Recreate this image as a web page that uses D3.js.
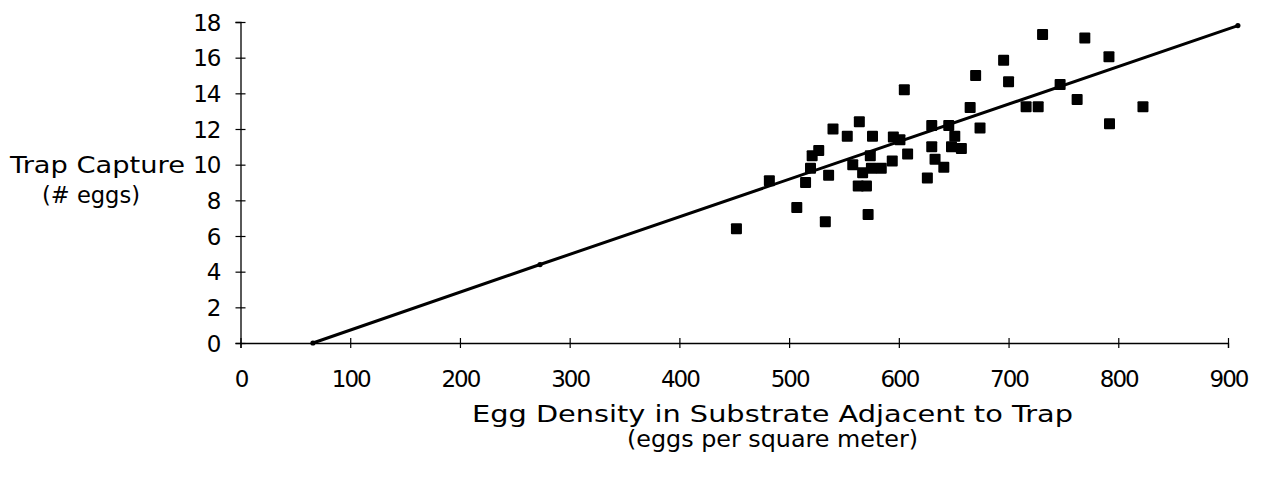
<!DOCTYPE html>
<html>
<head>
<meta charset="utf-8">
<script src="https://cdn.jsdelivr.net/npm/d3@7"></script>
<style>
  html, body { margin: 0; padding: 0; background: #fff; }
  svg { display: block; }
  text { font-family: "DejaVu Sans", sans-serif; fill: #000; }
</style>
</head>
<body>
<svg id="chart" width="1283" height="479"></svg>
<script>
// ---- data ----
const eggDensity = [452, 482, 507, 515, 519.5, 521, 527, 533, 536, 540,
                    553, 558, 564, 567, 563, 570.5, 572, 576, 574, 575,
                    584, 594, 595, 601, 605, 608, 626, 630, 630, 633,
                    641, 645.5, 648, 651, 657, 665, 670, 674, 695.5, 700,
                    716, 727, 731, 747, 762.5, 769.5, 791.5, 792, 822.5];
const trapCapture = [6.4, 9.1, 7.6, 9.0, 9.8, 10.5, 10.8, 6.8, 9.4, 12.0,
                     11.6, 10.0, 12.4, 9.55, 8.8, 8.8, 7.2, 11.6, 10.5, 9.8,
                     9.8, 10.2, 11.55, 11.4, 14.2, 10.6, 9.25, 12.2, 11.0, 10.3,
                     9.85, 12.2, 11.0, 11.6, 10.9, 13.2, 15.0, 12.05, 15.85, 14.65,
                     13.25, 13.25, 17.3, 14.5, 13.65, 17.1, 16.05, 12.3, 13.25];
const fitX = [66, 273, 909];
const fitY = [0, 4.4, 17.8];
const xTicks = [0, 100, 200, 300, 400, 500, 600, 700, 800, 900];
const yTicks = [0, 2, 4, 6, 8, 10, 12, 14, 16, 18];
const yTitle = ["Trap Capture", "(# eggs)"];
const xTitle = ["Egg Density in Substrate Adjacent to Trap", "(eggs per square meter)"];

// ---- layout ----
const svg = d3.select("#chart");
const x = d3.scaleLinear().domain([0, 900]).range([240.5, 1228]);
const y = d3.scaleLinear().domain([0, 18]).range([343, 22]);

// axes
const xAxis = svg.append("g")
  .attr("transform", `translate(0,${y(0)})`)
  .call(d3.axisBottom(x).tickValues(xTicks).tickSizeOuter(0).tickSize(5));
xAxis.select(".domain").attr("stroke", "#000").attr("stroke-width", 1.3);
xAxis.selectAll(".tick line").attr("y1", -5).attr("y2", 5).attr("stroke", "#000").attr("stroke-width", 1.2);
xAxis.selectAll(".tick text")
  .attr("y", 44).attr("dy", 0)
  .style("font-size", "23px").style("letter-spacing", "-2px")
  .attr("fill", "#000")
  .text(d => d);

const yAxis = svg.append("g")
  .attr("transform", `translate(${x(0)},0)`)
  .call(d3.axisLeft(y).tickValues(yTicks).tickSizeOuter(0).tickSize(5).tickPadding(15));
yAxis.select(".domain").attr("stroke", "#000").attr("stroke-width", 1.3);
yAxis.selectAll(".tick line").attr("x1", -5).attr("x2", 5).attr("stroke", "#000").attr("stroke-width", 1.2);
yAxis.selectAll(".tick text")
  .attr("dy", "0.36em")
  .style("font-size", "23px").style("letter-spacing", "-1px")
  .attr("fill", "#000");

// regression line
const fit = fitX.map((d, i) => [d, fitY[i]]);
svg.append("path")
  .datum(fit)
  .attr("fill", "none")
  .attr("stroke", "#000")
  .attr("stroke-width", 3)
  .attr("stroke-linecap", "round")
  .attr("d", d3.line().x(d => x(d[0])).y(d => y(d[1])));
svg.selectAll("circle.fitpt")
  .data(fit)
  .join("circle")
  .attr("class", "fitpt")
  .attr("cx", d => x(d[0])).attr("cy", d => y(d[1]))
  .attr("r", 2.6).attr("fill", "#000");

// scatter squares
const pts = eggDensity.map((d, i) => [d, trapCapture[i]]);
const s = 11;
svg.append("g").selectAll("rect")
  .data(pts)
  .join("rect")
  .attr("x", d => x(d[0]) - s / 2)
  .attr("y", d => y(d[1]) - s / 2)
  .attr("width", s).attr("height", s)
  .attr("rx", 1)
  .attr("fill", "#000");

// titles
svg.append("text").attr("x", 10).attr("y", 173)
  .attr("textLength", 175).attr("lengthAdjust", "spacingAndGlyphs")
  .style("font-size", "23px").text(yTitle[0]);
svg.append("text").attr("x", 42).attr("y", 203)
  .attr("textLength", 98).attr("lengthAdjust", "spacingAndGlyphs")
  .style("font-size", "23px").text(yTitle[1]);
svg.append("text").attr("x", 472).attr("y", 422)
  .attr("textLength", 601).attr("lengthAdjust", "spacingAndGlyphs")
  .style("font-size", "23px").text(xTitle[0]);
svg.append("text").attr("x", 627).attr("y", 447)
  .attr("textLength", 291).attr("lengthAdjust", "spacingAndGlyphs")
  .style("font-size", "23px").text(xTitle[1]);
</script>
</body>
</html>
